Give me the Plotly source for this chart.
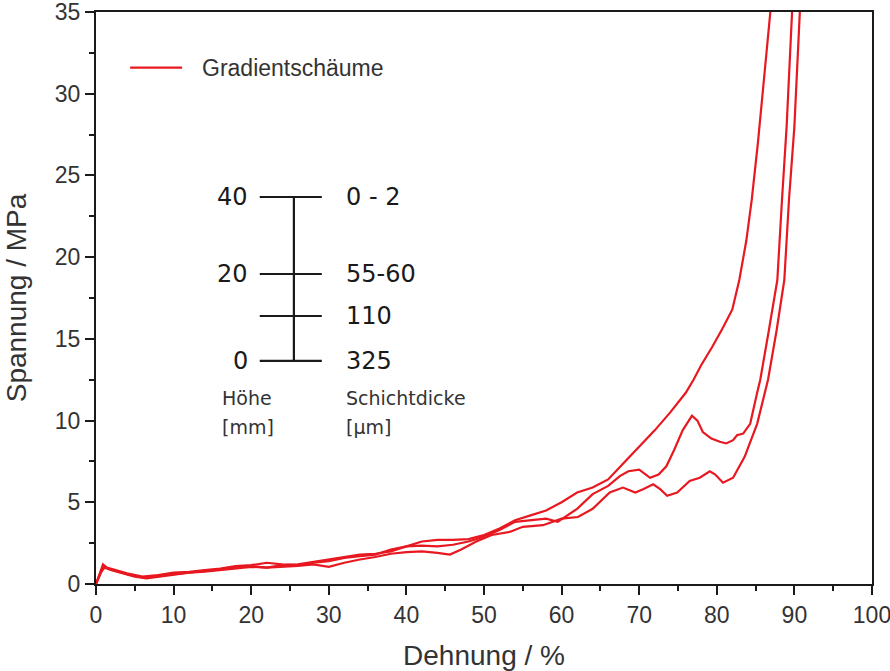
import plotly.graph_objects as go

# Compression tests of three graded foam specimens: strain (%) vs. stress (MPa)
strain_1 = [0, 0.5, 1.0, 1.5, 2.5, 4, 6, 8, 10, 12, 14, 16, 18, 20, 22, 24, 26, 28, 30,
            32, 34, 36, 38, 40, 42, 44, 46, 48, 50, 52, 54, 56, 58, 60, 62, 64, 66, 68,
            70, 72, 74, 76, 77, 78, 79.4, 80.7, 82, 82.9, 83.8, 84.5, 85.3, 86.1, 86.9]
stress_1 = [0, 0.6, 1.1, 0.95, 0.8, 0.6, 0.4, 0.5, 0.62, 0.72, 0.8, 0.9, 1.05, 1.1, 1.0,
            1.15, 1.2, 1.35, 1.5, 1.65, 1.8, 1.85, 2.0, 2.3, 2.6, 2.7, 2.7, 2.75, 3.0, 3.4,
            3.9, 4.2, 4.5, 5.0, 5.6, 5.9, 6.4, 7.4, 8.4, 9.4, 10.5, 11.7, 12.5, 13.4, 14.5,
            15.6, 16.8, 18.6, 21.0, 23.5, 27.0, 31.0, 35.0]

strain_2 = [0, 0.4, 0.9, 1.4, 2.5, 4, 6, 8, 10, 12, 14, 16, 18, 20, 22, 24, 26, 28, 30,
            32, 34, 36, 38, 40, 42, 44, 46, 48, 50, 52, 54, 56, 58, 59.5, 61, 62, 64, 66,
            67.5, 68.6, 70, 71.4, 72.5, 73.5, 74.5, 75.6, 76.8, 77.5, 78.2, 79.3, 80.4,
            81.2, 82.1, 82.6, 83.4, 84.3, 85.2, 85.6, 86.7, 87.8, 88.4, 89.0, 89.7]
stress_2 = [0, 0.5, 1.2, 1.0, 0.85, 0.65, 0.45, 0.55, 0.7, 0.75, 0.85, 0.95, 1.1, 1.15,
            1.3, 1.2, 1.15, 1.3, 1.4, 1.6, 1.7, 1.8, 2.1, 2.3, 2.35, 2.3, 2.4, 2.6, 2.9,
            3.3, 3.8, 3.9, 4.0, 3.8, 4.3, 4.6, 5.5, 6.0, 6.6, 6.9, 7.0, 6.5, 6.7, 7.2, 8.2,
            9.4, 10.3, 10.0, 9.3, 8.9, 8.7, 8.6, 8.8, 9.1, 9.2, 9.8, 11.7, 12.5, 15.5,
            18.6, 23.5, 28.0, 35.0]

strain_3 = [0, 0.6, 1.1, 2, 3.5, 5, 6.5, 8, 10, 12, 14, 16, 18, 20, 22, 24, 26, 28, 30,
            32, 34, 36, 38, 40, 42, 44, 45.6, 47, 49, 51, 53.4, 55, 57.6, 60, 62.1, 64,
            66.2, 67.9, 69.5, 70.5, 71.8, 72.7, 73.6, 74.9, 76.5, 77.8, 79.1, 79.8, 80.8,
            82.1, 83.6, 85.2, 86.6, 87.7, 88.7, 89.3, 90.0, 90.7]
stress_3 = [0, 0.7, 1.0, 0.85, 0.65, 0.45, 0.35, 0.45, 0.58, 0.7, 0.75, 0.85, 0.95, 1.05,
            1.0, 1.05, 1.1, 1.2, 1.05, 1.3, 1.5, 1.65, 1.85, 1.95, 2.0, 1.9, 1.8, 2.1, 2.6,
            3.0, 3.2, 3.5, 3.6, 4.0, 4.1, 4.6, 5.6, 5.9, 5.6, 5.8, 6.1, 5.8, 5.4, 5.6, 6.3,
            6.5, 6.9, 6.7, 6.2, 6.5, 7.8, 9.8, 12.5, 15.5, 18.6, 23.5, 28.0, 35.0]

curves = [(strain_1, stress_1), (strain_2, stress_2), (strain_3, stress_3)]
series_name = "Gradientschäume"

# Sample structure: height marks [mm] and layer thickness [µm]
height_labels = ["40", "20", "", "0"]
thickness_labels = ["0 - 2", "55-60", "110", "325"]
rung_y = [23.68, 18.97, 16.40, 13.65]   # vertical placement of the rungs (in MPa units)

RED = "rgb(232,24,32)"
INK = "#1a1a1a"

fig = go.Figure()
for sx, sy in curves:
    fig.add_trace(go.Scatter(x=sx, y=sy, mode="lines", name=series_name,
                             line=dict(color=RED, width=2.2), showlegend=False,
                             cliponaxis=True))

shapes = []
annotations = []

# hand-drawn legend entry
shapes.append(dict(type="line", xref="x", yref="y", x0=4.4, x1=11.1, y0=31.6, y1=31.6,
                   line=dict(color=RED, width=2.2)))
annotations.append(dict(x=13.4, y=31.6, xref="x", yref="y", text=series_name,
                        showarrow=False, xanchor="left", yanchor="middle",
                        font=dict(family="Liberation Sans, Arial", size=23, color="#333")))

# sample structure sketch
shapes.append(dict(type="line", xref="x", yref="y", x0=25.5, x1=25.5,
                   y0=rung_y[0], y1=rung_y[-1], line=dict(color=INK, width=2.2)))
inset_font = dict(family="DejaVu Sans, Verdana", size=24, color=INK)
for yv, hl, tl in zip(rung_y, height_labels, thickness_labels):
    shapes.append(dict(type="line", xref="x", yref="y", x0=21.1, x1=29.1, y0=yv, y1=yv,
                       line=dict(color=INK, width=2.2)))
    if hl:
        annotations.append(dict(x=19.8, y=yv, xref="x", yref="y", text=hl, showarrow=False,
                                xanchor="right", yanchor="middle", font=inset_font))
    annotations.append(dict(x=31.9, y=yv, xref="x", yref="y", text=tl, showarrow=False,
                            xanchor="left", yanchor="middle", font=inset_font))

caption_font = dict(family="DejaVu Sans, Verdana", size=19, color="#333")
for xv, top, bottom in [(16.0, "Höhe", "[mm]"), (31.9, "Schichtdicke", "[µm]")]:
    annotations.append(dict(x=xv, y=11.38, xref="x", yref="y", text=top, showarrow=False,
                            xanchor="left", yanchor="middle", font=caption_font))
    annotations.append(dict(x=xv, y=9.61, xref="x", yref="y", text=bottom, showarrow=False,
                            xanchor="left", yanchor="middle", font=caption_font))

axis_common = dict(showline=True, linecolor=INK, linewidth=2, mirror=True,
                   ticks="outside", ticklen=9, tickwidth=2, tickcolor=INK,
                   showgrid=False, zeroline=False, automargin=False,
                   ticklabeloverflow="allow",
                   tickfont=dict(family="Liberation Sans, Arial", size=23, color="#333"),
                   title_font=dict(family="Liberation Sans, Arial", size=28, color="#333"))

fig.update_layout(
    width=890, height=671,
    margin=dict(l=96, r=18, t=12, b=87),
    paper_bgcolor="white", plot_bgcolor="white",
    showlegend=False,
    shapes=shapes, annotations=annotations,
    xaxis=dict(range=[0, 100], dtick=10, tick0=0,
               minor=dict(dtick=5, ticks="outside", ticklen=5, tickwidth=2, tickcolor=INK),
               title=dict(text="Dehnung / %", standoff=34), **axis_common),
    yaxis=dict(range=[0, 35], dtick=5, tick0=0,
               minor=dict(dtick=2.5, ticks="outside", ticklen=5, tickwidth=2, tickcolor=INK),
               title=dict(text="Spannung / MPa", standoff=20), **axis_common),
)

fig.write_html("out.html")
